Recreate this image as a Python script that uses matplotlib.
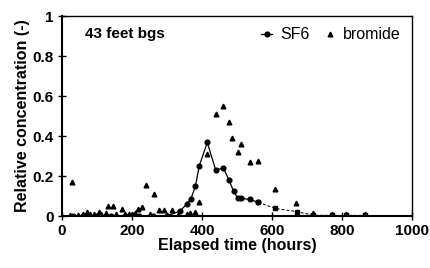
import matplotlib
matplotlib.use("Agg")
import matplotlib.pyplot as plt
from matplotlib.ticker import FuncFormatter

plt.rcParams['font.family'] = ['Liberation Sans', 'DejaVu Sans']

# SF6 data
sf6_x = [30, 60, 100, 140, 180, 220, 260, 300, 337, 358, 368, 381, 392, 415, 439,
         461, 477, 490, 502, 511, 537, 561, 609, 670, 718, 770, 811, 866]
sf6_y = [0.0, 0.0, 0.0, 0.0, 0.0, 0.0, 0.0, 0.0, 0.025, 0.062, 0.085, 0.148, 0.25,
         0.368, 0.23, 0.24, 0.18, 0.125, 0.088, 0.088, 0.083, 0.068, 0.038, 0.022,
         0.004, 0.003, 0.003, 0.003]
sf6_solid_end = 22  # index after 561 h

# Bromide data
br_x = [22, 28, 45, 60, 70, 80, 92, 105, 112, 125, 132, 147, 155, 170, 180, 190,
        200, 208, 218, 228, 239, 250, 262, 277, 290, 300, 313, 330, 358, 365, 380,
        392, 415, 439, 461, 477, 487, 502, 510, 537, 561, 609, 669, 718, 770, 811, 866]
br_y = [0.005, 0.17, 0.005, 0.008, 0.02, 0.01, 0.008, 0.022, 0.01, 0.015, 0.05,
        0.05, 0.01, 0.035, 0.01, 0.008, 0.01, 0.015, 0.035, 0.045, 0.155, 0.008,
        0.11, 0.03, 0.03, 0.005, 0.03, 0.005, 0.01, 0.015, 0.02, 0.07, 0.31, 0.51,
        0.55, 0.47, 0.39, 0.32, 0.36, 0.27, 0.275, 0.135, 0.067, 0.017, 0.01, 0.01,
        0.008]

x_ticks = [0, 200, 400, 600, 800, 1000]
y_ticks = [0, 0.2, 0.4, 0.6, 0.8, 1.0]

fig = plt.figure(figsize=(4.31, 2.68), dpi=100)
ax = fig.add_axes([0.1439, 0.194, 0.8121, 0.746])

ax.plot(sf6_x[:sf6_solid_end], sf6_y[:sf6_solid_end], '-', color='black', lw=0.9,
        marker='o', ms=3.4, label='SF6')
ax.plot(sf6_x[sf6_solid_end - 1:], sf6_y[sf6_solid_end - 1:], '--', color='black',
        lw=0.7, dashes=(3, 2), marker='s', ms=3.2)
ax.plot(br_x, br_y, linestyle='none', marker='^', color='black', ms=3.4,
        label='bromide')

ax.set_xlim(0, 1000)
ax.set_ylim(0, 1)
ax.set_xticks(x_ticks)
ax.set_yticks(y_ticks)
ax.yaxis.set_major_formatter(FuncFormatter(lambda v, p: '%g' % v))
ax.tick_params(direction='inout', length=6, width=1, labelsize=11, pad=3)
for lab in ax.get_xticklabels() + ax.get_yticklabels():
    lab.set_fontweight('bold')

for side in ['left', 'bottom']:
    ax.spines[side].set_linewidth(1.5)
for side in ['top', 'right']:
    ax.spines[side].set_linewidth(1.0)

ax.set_xlabel('Elapsed time (hours)', fontsize=11.5, fontweight='bold', labelpad=0)
ax.set_ylabel('Relative concentration (-)', fontsize=11.5, fontweight='bold', labelpad=2)

ax.text(0.065, 0.91, '43 feet bgs', transform=ax.transAxes, fontsize=11,
        fontweight='bold', va='center', ha='left')

leg = ax.legend(loc='upper right', ncol=2, frameon=False, fontsize=11.5,
                handlelength=0.7, handletextpad=0.5, columnspacing=0.9,
                borderaxespad=0.3, bbox_to_anchor=(1.0, 1.0))

fig.savefig('out.png', dpi=100)
